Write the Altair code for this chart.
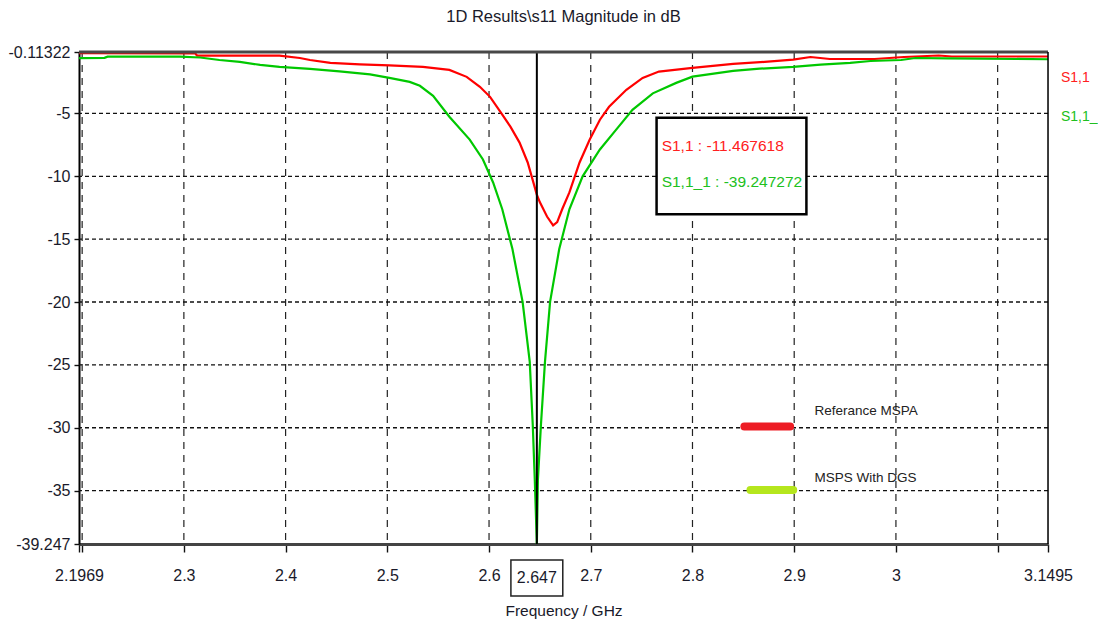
import altair as alt
import pandas as pd

# ---------------- data ----------------
series_names = ["S1,1", "S1,1_1"]
legend_labels = ["Referance MSPA", "MSPS With DGS"]

red_freq = [2.1969, 2.311, 2.313, 2.394, 2.414, 2.424, 2.444, 2.473, 2.502, 2.535,
            2.561, 2.578, 2.591, 2.601, 2.611, 2.621, 2.630, 2.638, 2.644, 2.647,
            2.650, 2.657, 2.663, 2.667, 2.672, 2.679, 2.689, 2.699, 2.709, 2.718,
            2.735, 2.751, 2.767, 2.800, 2.840, 2.871, 2.899, 2.916, 2.935, 2.979,
            3.008, 3.042, 3.055, 3.1495]
red_db = [-0.20, -0.22, -0.40, -0.40, -0.59, -0.75, -0.98, -1.10, -1.17, -1.30,
          -1.54, -2.09, -2.88, -3.68, -4.86, -6.05, -7.32, -8.90, -10.60, -11.47,
          -12.07, -13.20, -13.90, -13.65, -12.60, -11.28, -8.90, -7.08, -5.50, -4.47,
          -3.12, -2.17, -1.67, -1.38, -1.06, -0.90, -0.72, -0.51, -0.67, -0.67,
          -0.51, -0.39, -0.47, -0.47]

green_freq = [2.1969, 2.222, 2.225, 2.296, 2.316, 2.335, 2.355, 2.375, 2.394, 2.424,
              2.453, 2.483, 2.502, 2.522, 2.532, 2.545, 2.561, 2.581, 2.594, 2.604,
              2.613, 2.623, 2.633, 2.640, 2.643, 2.645, 2.647, 2.648, 2.651, 2.655,
              2.660, 2.669, 2.679, 2.692, 2.709, 2.725, 2.741, 2.761, 2.784, 2.800,
              2.840, 2.866, 2.899, 2.926, 2.955, 2.975, 3.005, 3.019, 3.050, 3.1495]
green_db = [-0.60, -0.58, -0.48, -0.48, -0.55, -0.75, -0.90, -1.14, -1.30, -1.46,
            -1.66, -1.90, -2.17, -2.49, -2.80, -3.60, -5.26, -7.08, -8.66, -10.49,
            -12.62, -15.79, -19.99, -24.74, -29.80, -34.20, -39.247, -34.20, -29.80, -24.74,
            -19.99, -15.79, -12.62, -10.00, -7.87, -6.29, -4.71, -3.40, -2.57, -2.07,
            -1.62, -1.44, -1.30, -1.12, -0.98, -0.83, -0.75, -0.59, -0.62, -0.69]

x_ticks = [2.1969, 2.2, 2.3, 2.4, 2.5, 2.6, 2.7, 2.8, 2.9, 3.0, 3.1, 3.1495]
x_grid = [2.2, 2.3, 2.4, 2.5, 2.6, 2.7, 2.8, 2.9, 3.0, 3.1]
y_ticks = [-0.11322, -5, -10, -15, -20, -25, -30, -35, -39.247]
y_grid = [-5, -10, -15, -20, -25, -30, -35]

marker_freq = 2.647
marker_red = -11.467618
marker_green = -39.247272

x_min, x_max = 2.1969, 3.1495
y_min, y_max = -39.247, -0.11322

FONT = "Liberation Sans, Arial, sans-serif"
TXT = "#1a1a2a"
RED = "#ff0000"
GREEN = "#00c800"

# ---------------- tables ----------------
curves = pd.concat([
    pd.DataFrame({"freq": red_freq, "db": red_db, "series": series_names[0]}),
    pd.DataFrame({"freq": green_freq, "db": green_db, "series": series_names[1]}),
])
xgrid_df = pd.DataFrame({"freq": x_grid})
ygrid_df = pd.DataFrame({"db": y_grid})
one = pd.DataFrame({"k": [0]})

xs = alt.Scale(domain=[x_min, x_max], nice=False, zero=False)
ys = alt.Scale(domain=[y_min, y_max], nice=False, zero=False)

x_axis = alt.Axis(values=x_ticks,
                  labelExpr="(datum.value == 2.2 || datum.value == 3.1) ? '' : toString(datum.value)",
                  labelOverlap=False, labelFlush=False, grid=False,
                  domainColor="#444", domainWidth=3, tickColor="#111", tickWidth=1.4,
                  tickSize=8, labelPadding=15, labelFontSize=16, labelFont=FONT,
                  labelColor=TXT, titleFont=FONT, titleFontSize=15.5,
                  titleFontWeight="normal", titleColor=TXT, titlePadding=20)
y_axis = alt.Axis(values=y_ticks, labelExpr="toString(datum.value)",
                  labelOverlap=False, labelFlush=False, grid=False,
                  domainColor="#000", domainWidth=2, tickColor="#111", tickWidth=1.4,
                  tickSize=5, labelPadding=4, labelFontSize=16, labelFont=FONT,
                  labelColor=TXT)
X_TITLE = "Frequency / GHz"

# ---------------- layers ----------------
xgrid = alt.Chart(xgrid_df).mark_rule(color="#222", strokeWidth=1.2, strokeDash=[7, 6]).encode(
    x=alt.X("freq:Q", scale=xs, axis=x_axis, title=X_TITLE))
ygrid = alt.Chart(ygrid_df).mark_rule(color="#111", strokeWidth=1.3, strokeDash=[4, 3]).encode(
    y=alt.Y("db:Q", scale=ys, axis=y_axis, title=None))

lines = alt.Chart(curves).mark_line(strokeWidth=2.2, interpolate="linear").encode(
    x=alt.X("freq:Q", scale=xs, axis=x_axis, title=X_TITLE),
    y=alt.Y("db:Q", scale=ys, axis=y_axis, title=None),
    color=alt.Color("series:N", scale=alt.Scale(domain=series_names, range=[RED, GREEN]), legend=None),
    detail="series:N",
)

top_border = alt.Chart(one).mark_rule(color="#484848", strokeWidth=3).encode(
    y=alt.value(0), x=alt.value(0), x2=alt.value(969))
right_border = alt.Chart(one).mark_rule(color="#000", strokeWidth=1.5).encode(
    x=alt.value(969), y=alt.value(0), y2=alt.value(492))

marker_line = alt.Chart(one).mark_rule(color="#000", strokeWidth=2).encode(
    x=alt.datum(marker_freq), y=alt.value(0), y2=alt.value(492))

marker_box = alt.Chart(one).mark_rect(fill="white", stroke="#000", strokeWidth=2.5).encode(
    x=alt.datum(2.7647), x2=alt.datum(2.912), y=alt.datum(-5.34), y2=alt.datum(-13.02))
marker_txt_red = alt.Chart(one).mark_text(align="left", baseline="middle", font=FONT,
                                          fontSize=15.5, color="#ff2020").encode(
    x=alt.datum(2.7697), y=alt.datum(-7.56), text=alt.value(f"{series_names[0]} : {marker_red:.6f}"))
marker_txt_green = alt.Chart(one).mark_text(align="left", baseline="middle", font=FONT,
                                            fontSize=15.5, color="#20c020").encode(
    x=alt.datum(2.7697), y=alt.datum(-10.49), text=alt.value(f"{series_names[1]} : {marker_green:.6f}"))

xlabel_box = alt.Chart(one).mark_rect(fill="white", stroke="#222", strokeWidth=1.5).encode(
    x=alt.datum(marker_freq - 0.0255), x2=alt.datum(marker_freq + 0.0255),
    y=alt.value(508), y2=alt.value(544))
xlabel_txt = alt.Chart(one).mark_text(align="center", baseline="middle", font=FONT,
                                      fontSize=16, color=TXT).encode(
    x=alt.datum(marker_freq), y=alt.value(526), text=alt.value(f"{marker_freq:g}"))

leg_red = alt.Chart(one).mark_rule(color="#ed1c24", strokeWidth=8, strokeCap="round").encode(
    x=alt.datum(2.851), x2=alt.datum(2.896), y=alt.datum(-29.9))
leg_green = alt.Chart(one).mark_rule(color="#b5e61d", strokeWidth=8, strokeCap="round").encode(
    x=alt.datum(2.857), x2=alt.datum(2.899), y=alt.datum(-34.95))
leg_txt1 = alt.Chart(one).mark_text(align="left", baseline="middle", font=FONT,
                                    fontSize=13.5, color="#222").encode(
    x=alt.datum(2.9199), y=alt.datum(-28.7), text=alt.value(legend_labels[0]))
leg_txt2 = alt.Chart(one).mark_text(align="left", baseline="middle", font=FONT,
                                    fontSize=13.5, color="#222").encode(
    x=alt.datum(2.9199), y=alt.datum(-34.0), text=alt.value(legend_labels[1]))

side1 = alt.Chart(one).mark_text(align="left", baseline="middle", font=FONT,
                                 fontSize=14, color="#ff2020").encode(
    x=alt.value(982), y=alt.value(26), text=alt.value(series_names[0]))
side2 = alt.Chart(one).mark_text(align="left", baseline="middle", font=FONT,
                                 fontSize=14, color="#20c020").encode(
    x=alt.value(982), y=alt.value(65), text=alt.value("S1,1_"))

chart = alt.layer(
    xgrid, ygrid, lines, marker_line, top_border, right_border,
    marker_box, marker_txt_red, marker_txt_green,
    leg_red, leg_green, leg_txt1, leg_txt2,
    xlabel_box, xlabel_txt, side1, side2,
).properties(
    width=969, height=492,
    title=alt.TitleParams(r"1D Results\s11 Magnitude in dB", font=FONT, fontSize=16.5,
                          fontWeight="normal", color=TXT, anchor="middle", offset=19),
    autosize=alt.AutoSizeParams(type="none"),
    padding={"left": 71, "top": 44, "right": 50, "bottom": 80},
).configure_view(stroke=None).configure(background="white")

chart.save("out.html", embed_options={"renderer": "svg", "actions": False})
